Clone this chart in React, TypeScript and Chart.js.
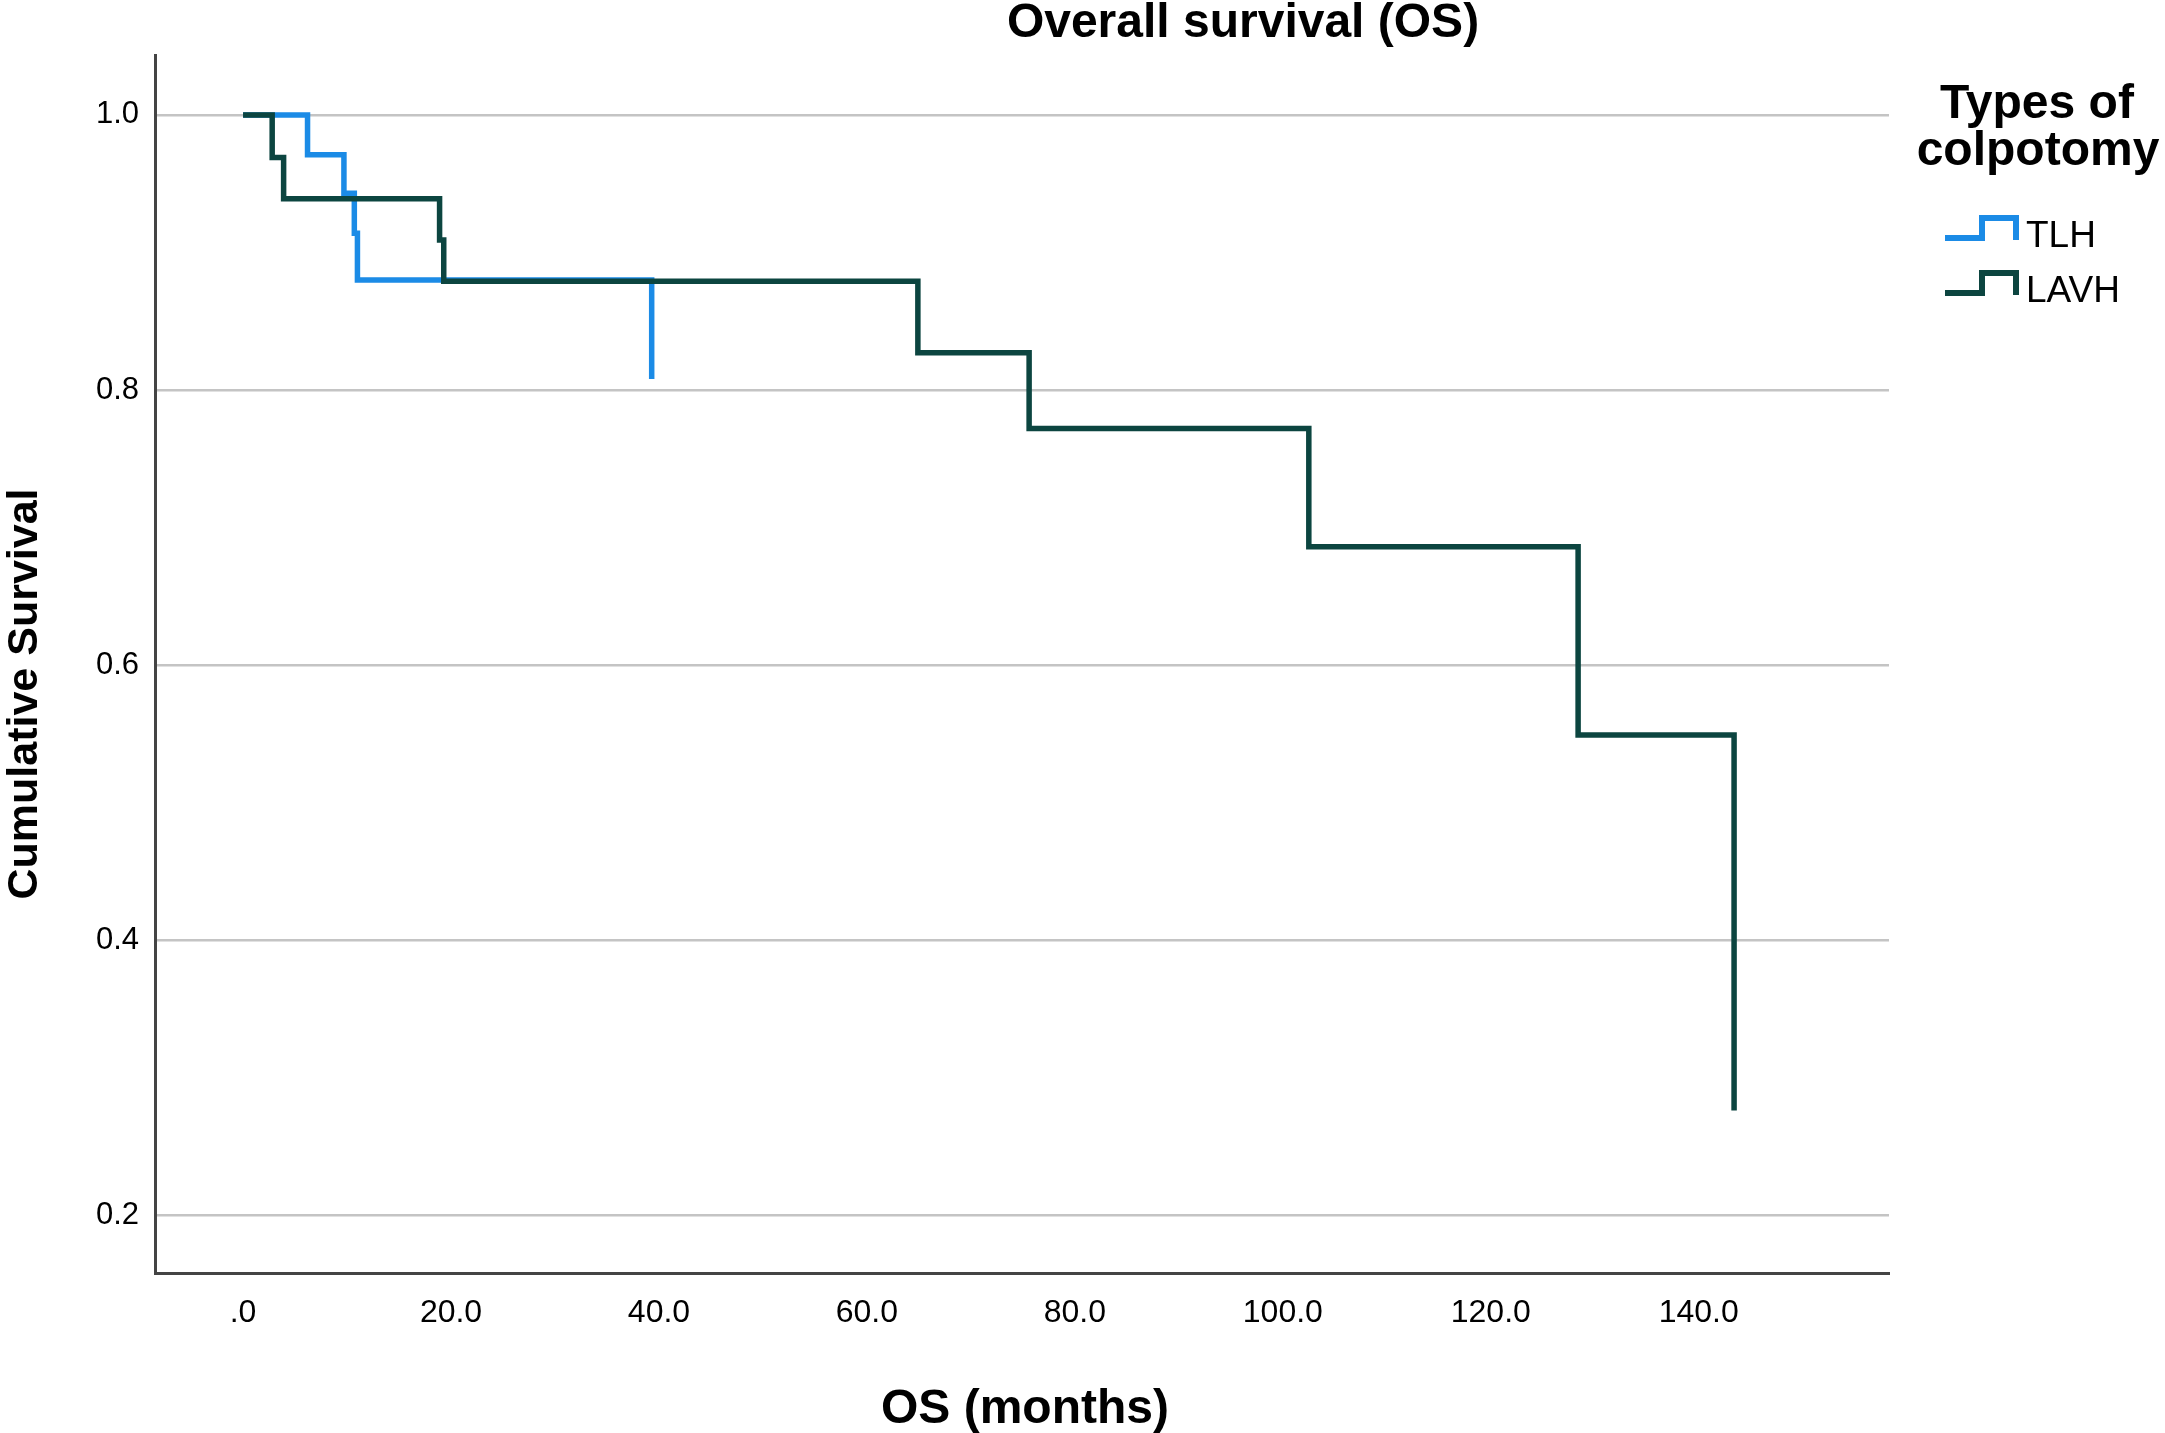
import { useEffect, useRef } from "react";
import Chart from "chart.js/auto";

// Kaplan-Meier steps (months, cumulative survival)
const tlhMonths = [0, 6.2, 9.7, 10.7, 11.0, 39.3];
const tlhSurvival = [1.0, 0.971, 0.943, 0.914, 0.88, 0.808];
const lavhMonths = [0, 2.8, 3.9, 18.9, 19.3, 64.9, 75.6, 102.5, 128.4, 143.4];
const lavhSurvival = [1.0, 0.969, 0.939, 0.909, 0.879, 0.827, 0.772, 0.686, 0.549, 0.276];

const xTicks = [0, 20, 40, 60, 80, 100, 120, 140];
const yTicks = [0.2, 0.4, 0.6, 0.8, 1.0];

const seriesNames = ["TLH", "LAVH"];
const seriesColors = ["#1b8be6", "#0c4540"];

const FONT = "'Liberation Sans', Arial, sans-serif";

const textPlugin = {
  id: "spssText",
  afterDraw(chart) {
    const ctx = chart.ctx;
    ctx.save();
    ctx.fillStyle = "#000";

    // title
    ctx.font = `bold 48px ${FONT}`;
    ctx.textAlign = "center";
    ctx.textBaseline = "alphabetic";
    ctx.fillText("Overall survival (OS)", 1243, 37);

    // x axis title
    ctx.font = `bold 48px ${FONT}`;
    ctx.fillText("OS (months)", 1025, 1423);

    // y axis title
    ctx.save();
    ctx.translate(37, 694);
    ctx.rotate(-Math.PI / 2);
    ctx.font = `bold 43px ${FONT}`;
    ctx.fillText("Cumulative Survival", 0, 0);
    ctx.restore();

    // legend
    ctx.font = `bold 48px ${FONT}`;
    ctx.fillText("Types of", 2037, 118);
    ctx.fillText("colpotomy", 2038, 165);

    ctx.textAlign = "left";
    ctx.font = `37px ${FONT}`;
    seriesNames.forEach((name, i) => {
      const dy = i * 55;
      ctx.strokeStyle = seriesColors[i];
      ctx.lineWidth = 6;
      ctx.beginPath();
      ctx.moveTo(1945, 238 + dy);
      ctx.lineTo(1982, 238 + dy);
      ctx.lineTo(1982, 218 + dy);
      ctx.lineTo(2016, 218 + dy);
      ctx.lineTo(2016, 240 + dy);
      ctx.stroke();
      ctx.fillText(name, 2026, 247 + dy);
    });

    ctx.restore();
  },
};

function App() {
  const canvasRef = useRef(null);

  useEffect(() => {
    document.body.style.margin = "0";

    const chart = new Chart(canvasRef.current, {
      type: "line",
      data: {
        datasets: [
          {
            label: seriesNames[0],
            data: tlhMonths.map((m, i) => ({ x: m, y: tlhSurvival[i] })),
            borderColor: seriesColors[0],
            borderWidth: 5.5,
            stepped: true,
            pointRadius: 0,
            fill: false,
            order: 1,
          },
          {
            label: seriesNames[1],
            data: lavhMonths.map((m, i) => ({ x: m, y: lavhSurvival[i] })),
            borderColor: seriesColors[1],
            borderWidth: 5.5,
            stepped: true,
            pointRadius: 0,
            fill: false,
            order: 0,
          },
        ],
      },
      options: {
        animation: false,
        responsive: true,
        maintainAspectRatio: false,
        layout: { padding: { top: 55, right: 276, left: 0, bottom: 0 } },
        plugins: {
          legend: { display: false },
          title: { display: false },
          tooltip: { enabled: false },
        },
        scales: {
          x: {
            type: "linear",
            min: -8.47,
            max: 158.3,
            afterBuildTicks: (axis) => {
              axis.ticks = xTicks.map((value) => ({ value }));
            },
            afterFit: (axis) => {
              axis.height = 160;
            },
            grid: { display: false, drawTicks: false },
            border: { display: true, color: "#444", width: 3 },
            ticks: {
              padding: 21,
              color: "#000",
              font: { family: FONT, size: 32 },
              maxRotation: 0,
              autoSkip: false,
              callback: (v) => (v === 0 ? ".0" : Number(v).toFixed(1)),
            },
          },
          y: {
            type: "linear",
            min: 0.1578,
            max: 1.0436,
            afterBuildTicks: (axis) => {
              axis.ticks = yTicks.map((value) => ({ value }));
            },
            afterFit: (axis) => {
              axis.width = 155;
            },
            grid: { color: "#c4c4c4", lineWidth: 2.5, drawTicks: false },
            border: { display: true, color: "#444", width: 3 },
            ticks: {
              padding: 16,
              color: "#000",
              font: { family: FONT, size: 31 },
              autoSkip: false,
              callback: (v) => Number(v).toFixed(1),
            },
          },
        },
      },
      plugins: [textPlugin],
    });

    return () => {
      chart.destroy();
    };
  }, []);

  return (
    <div
      style={{
        position: "fixed",
        left: 0,
        top: 0,
        width: 2165,
        height: 1433,
        background: "#fff",
      }}
    >
      <canvas ref={canvasRef}></canvas>
    </div>
  );
}

export default App;
